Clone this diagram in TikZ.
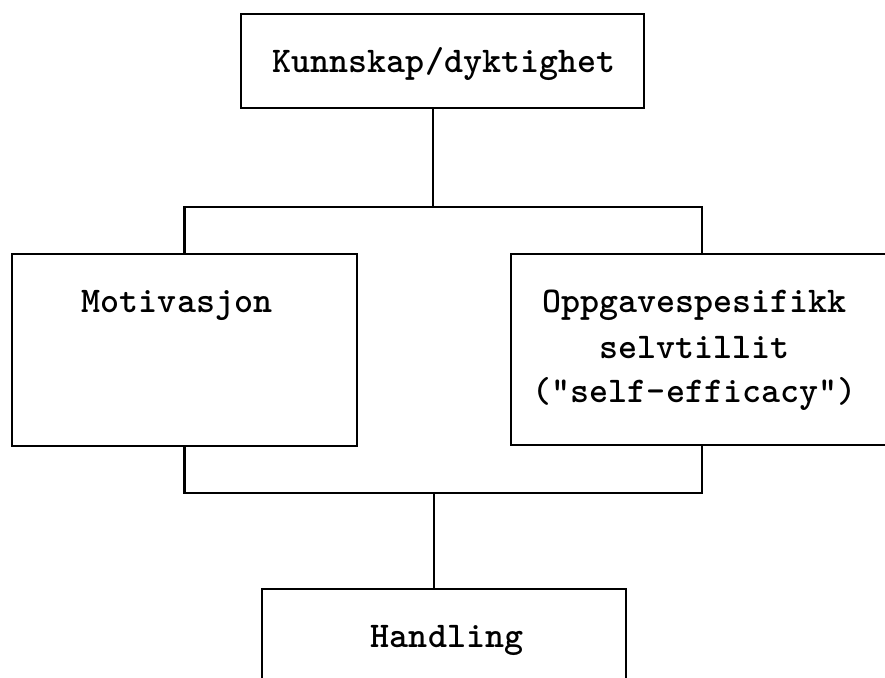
\documentclass[tikz,border=0pt]{standalone}
\usepackage{fontspec}
\tikzset{
  box/.style={draw=black, line width=2.6pt, rectangle, inner sep=0pt},
  lbl/.style={font=\ttfamily\bfseries\fontsize{36.2}{44}\selectfont, inner sep=0pt, anchor=base},
  wire/.style={draw=black, line width=2.4pt}
}
\begin{document}
\begin{tikzpicture}[x=1pt, y=-1pt]
  \useasboundingbox (0,0) rectangle (885,677);
  \clip (0,0) rectangle (885,677);

  % boxes
  \node[box, minimum width=403pt, minimum height=94pt]  (kb)   at (442.5,61) {};
  \node[box, minimum width=345pt, minimum height=192pt] (mot)  at (184.5,350) {};
  \node[box, minimum width=382pt, minimum height=191pt] (self) at (702,349.5) {};
  \node[box, minimum width=364pt, minimum height=131pt] (hand) at (444,654.5) {};

  % labels
  \node[lbl] (kbt)  at (444,72)    {Kunnskap/dyktighet};
  \node[lbl] (mott) at (177,312)   {Motivasjon};
  \node[lbl] (st1)  at (694.5,312) {Oppgavespesifikk};
  \node[lbl] (st2)  at (694.5,358) {selvtillit};
  \node[lbl] (st3)  at (694.5,402) {("self-efficacy")};
  \node[lbl] (hdt)  at (447,647)   {Handling};

  % junction points of the two buses
  \coordinate (ju) at (433,207);
  \coordinate (jd) at (434,493);

  % connectors
  \draw[wire] (kb.south -| ju) -- (ju);
  \draw[wire] (mot.north) |- (ju) -| (self.north);
  \draw[wire] (mot.south) |- (jd) -| (self.south);
  \draw[wire] (jd) -- (jd |- hand.north);
\end{tikzpicture}
\end{document}
